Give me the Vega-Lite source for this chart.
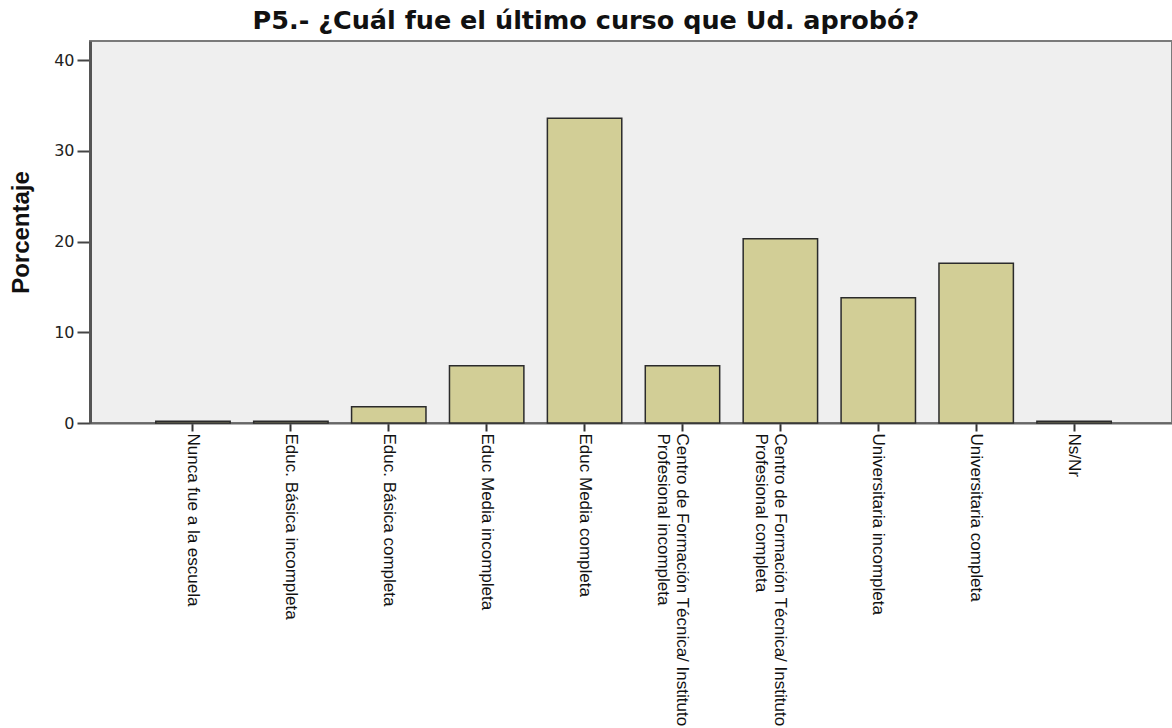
{
  "$schema": "https://vega.github.io/schema/vega-lite/v6.json",
  "width": 1082,
  "height": 382,
  "autosize": {"type": "none"},
  "padding": {"left": 90, "top": 41, "right": 0, "bottom": 305},
  "background": "white",
  "title": {
    "text": "P5.-  ¿Cuál fue el último curso que Ud. aprobó?",
    "font": "DejaVu Sans",
    "fontSize": 25.5,
    "fontWeight": "bold",
    "color": "#111",
    "anchor": "middle",
    "frame": "group",
    "dx": -45,
    "offset": 7
  },
  "config": {"view": {"fill": "#EFEFEF", "stroke": "#7a7a7a", "strokeWidth": 2}},
  "data": {
    "values": [
      {"curso": "Nunca fue a la escuela", "porcentaje": 0.2},
      {"curso": "Educ. Básica incompleta", "porcentaje": 0.2},
      {"curso": "Educ. Básica completa", "porcentaje": 1.8},
      {"curso": "Educ Media  incompleta", "porcentaje": 6.3},
      {"curso": "Educ Media completa", "porcentaje": 33.6},
      {"curso": "Centro de Formación Técnica/ Instituto|Profesional incompleta", "porcentaje": 6.3},
      {"curso": "Centro de Formación Técnica/ Instituto|Profesional completa", "porcentaje": 20.3},
      {"curso": "Universitaria incompleta", "porcentaje": 13.8},
      {"curso": "Universitaria completa", "porcentaje": 17.6},
      {"curso": "Ns/Nr", "porcentaje": 0.2}
    ]
  },
  "mark": {"type": "bar", "color": "#D2CE96", "stroke": "#2b2b2b", "strokeWidth": 1.5},
  "encoding": {
    "x": {
      "field": "curso",
      "type": "nominal",
      "sort": null,
      "scale": {"paddingInner": 0.24, "paddingOuter": 0.646, "align": 0.52},
      "axis": {
        "title": null,
        "labelAngle": 90,
        "labelExpr": "split(datum.value, '|')",
        "labelFont": "Liberation Sans",
        "labelFontSize": 17,
        "labelColor": "#111",
        "labelLineHeight": 19,
        "labelPadding": 2,
        "labelLimit": 400,
        "labelOverlap": false,
        "tickColor": "#333",
        "tickWidth": 2,
        "tickSize": 8,
        "domainColor": "#666",
        "domainWidth": 2,
        "grid": false
      }
    },
    "y": {
      "field": "porcentaje",
      "type": "quantitative",
      "scale": {"domain": [0, 42.1], "nice": false},
      "axis": {
        "title": "Porcentaje",
        "titleFont": "Liberation Sans",
        "titleFontSize": 24,
        "titleFontWeight": "bold",
        "titleColor": "#111",
        "titlePadding": 20,
        "labelFont": "DejaVu Sans",
        "labelFontSize": 16,
        "labelColor": "#222",
        "labelPadding": 3,
        "values": [0, 10, 20, 30, 40],
        "tickSize": 13,
        "tickWidth": 2,
        "tickColor": "#444",
        "domainColor": "#555",
        "domainWidth": 3,
        "grid": false
      }
    }
  }
}
